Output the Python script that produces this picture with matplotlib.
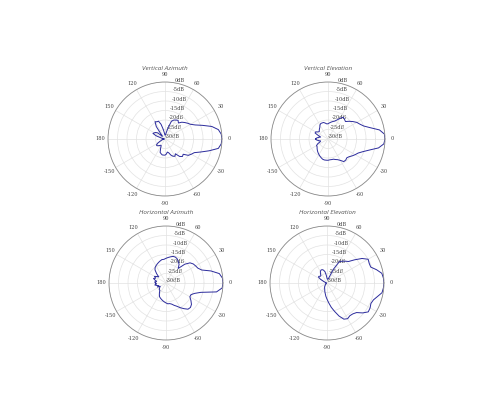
import numpy as np
import matplotlib
matplotlib.use("Agg")
import matplotlib.pyplot as plt

# Angles (degrees) shared by all four patterns
angles = list(range(-180, 181, 5))

# dB values at each angle (-180 .. 180, step 5)
va_neg = [-29.5, -29, -28.5, -28.5, -28, -27, -25.5, -24.5, -24.5, -25, -25.5, -26, -26,
          -24.5, -22.5, -22, -21.5, -21.5, -21.5, -22, -23, -22.5, -21, -20, -19.5, -20.5,
          -18, -17, -17.5, -15, -14, -13, -10, -6, -1.5, -0.3]
va_pos = [0, -0.3, -1.5, -4.5, -9, -12.5, -14.5, -15.5, -16.5, -17.5, -19, -18, -18.5, -19,
          -20, -24, -27, -28, -28, -27, -25, -22, -20, -20, -19.5, -22, -27, -28, -25, -24,
          -23.5, -23, -25, -28, -29, -29.5, -29.5]
vertical_azimuth = va_neg + va_pos

ve_neg = [-23.5, -24, -25, -26, -25.5, -24, -23, -23, -22.5, -22, -21.5, -21, -20.5, -20,
          -19.5, -19, -18.8, -18.8, -18.8, -19, -19, -19, -18.5, -18, -17, -15.5, -15.5, -16,
          -15.5, -14.5, -13.5, -12.5, -10.5, -7.5, -3, -0.5]
ve_pos = [0, -0.2, -2.5, -7, -10, -11.5, -12.5, -14, -15.5, -17, -16.5, -16, -17.5, -19, -20,
          -20.5, -21, -21.5, -22, -22, -21.5, -21, -21, -21, -21.5, -22.5, -23, -23.5, -24,
          -23.5, -22.5, -22.5, -24.5, -26, -25, -24, -23.5]
vertical_elevation = ve_neg + ve_pos

ha_neg = [-24.5, -25, -24, -25, -26, -25, -26.5, -26, -25.5, -25, -25, -24, -23, -22, -21.5,
          -21, -20.5, -20, -19.5, -19, -19, -18.5, -17.5, -16.5, -15, -13.5, -12, -11.8, -12.5,
          -14, -15.5, -15.5, -14, -11, -3, -0.3]
ha_pos = [0, -0.2, -1.5, -5.5, -10, -11.5, -12, -12.5, -13.5, -16, -20, -18, -17, -16, -15.5,
          -15.5, -16, -16.5, -17, -17.5, -17.5, -18, -18.5, -19, -19.5, -20, -21, -23, -25,
          -24, -23, -24, -23, -24, -25, -24, -24.5]
horizontal_azimuth = ha_neg + ha_pos

he_neg = [-29.5, -29.5, -29.5, -29.5, -29.5, -29.5, -29.5, -29.5, -29.5, -29, -28.5, -28,
          -27.5, -27, -26.5, -25.5, -24.5, -23, -21.5, -19.5, -17, -14.5, -11.5, -9, -8.3, -9,
          -8.8, -8, -5.5, -3.5, -3.8, -4.5, -4, -2.5, -0.6, -0.2]
he_pos = [0, -0.2, -0.7, -3, -5.5, -5.5, -5, -7.5, -11, -14, -15, -16, -17, -22, -27, -28,
          -28, -28, -27.5, -26, -24, -23, -22.5, -22.5, -23, -24, -25, -25, -24.5, -24.5, -26,
          -28, -29, -29.5, -29.5, -29.5, -29.5]
horizontal_elevation = he_neg + he_pos

titles = ["Vertical Azimuth", "Vertical Elevation", "Horizontal Azimuth", "Horizontal Elevation"]
patterns = [vertical_azimuth, vertical_elevation, horizontal_azimuth, horizontal_elevation]

r_ticks = [-30, -25, -20, -15, -10, -5, 0]
r_labels = ["-30dB", "-25dB", "-20dB", "-15dB", "-10dB", "-5dB", "0dB"]
theta_ticks = list(range(0, 360, 30))
theta_labels = ["0", "30", "60", "90", "120", "150", "180", "-150", "-120", "-90", "-60", "-30"]

W, H = 500, 400
fig = plt.figure(figsize=(5, 4), dpi=100)
centers = [(165, 139), (328, 139), (166, 283), (327, 283)]
R = 57

for (cx, cy), title, vals in zip(centers, titles, patterns):
    rect = [(cx - R) / W, (H - cy - R) / H, 2 * R / W, 2 * R / H]
    ax = fig.add_axes(rect, projection="polar")
    th = np.deg2rad(angles)
    ax.plot(th, vals, color="#2b2b9c", lw=0.7)
    ax.set_ylim(-30, 0)
    ax.set_yticks(r_ticks)
    ax.set_yticklabels(r_labels, fontsize=3.6, color="#444444", family="DejaVu Serif")
    ax.set_rlabel_position(80)
    ax.set_xticks(np.deg2rad(theta_ticks))
    ax.set_xticklabels([])
    for t, lab in zip(theta_ticks, theta_labels):
        ax.text(np.deg2rad(t), 4.0, lab, ha="center", va="center", fontsize=3.6,
                color="#444444", family="DejaVu Serif", clip_on=False)
    ax.grid(True, color="#e2e2e2", lw=0.5)
    ax.spines["polar"].set_color("#8a8a8a")
    ax.spines["polar"].set_linewidth(0.6)
    ax.text(0.5, 1.115, title, transform=ax.transAxes, ha="center", va="center",
            fontsize=4.6, style="italic", color="#555555", family="Open Sans")

fig.savefig("out.png", dpi=100, facecolor="white")
